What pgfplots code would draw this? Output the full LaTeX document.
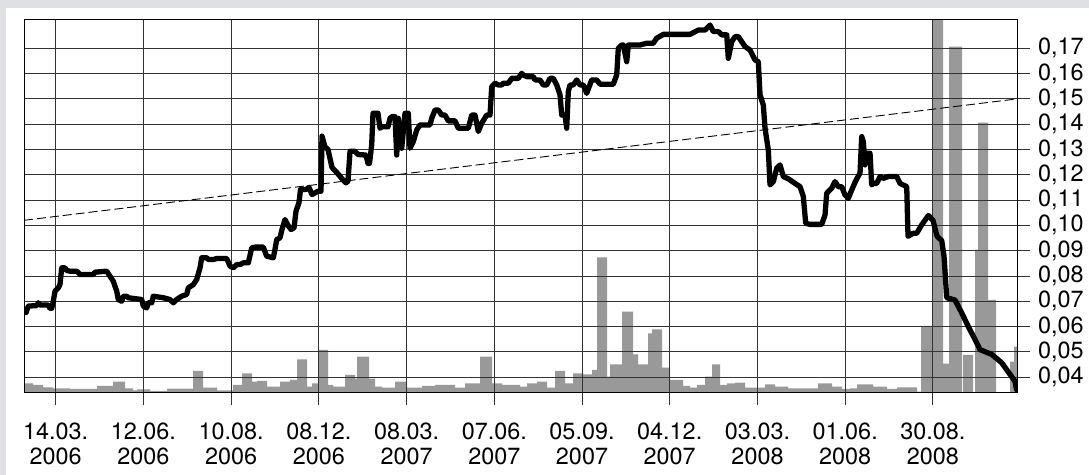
\documentclass[border=0pt]{standalone}
\usepackage{fontspec}
\setmainfont{TeX Gyre Heros}
\usepackage{pgfplots}
\pgfplotsset{compat=1.18}
\definecolor{bggray}{RGB}{223,224,227}
\definecolor{bargray}{RGB}{153,153,153}
\begin{document}
\begin{tikzpicture}[x=1bp,y=1bp]
\fill[bggray] (0,0) rectangle (1089,475);
\fill[white] (6,0) rectangle (1089,467);
% volume bars
\begin{axis}[at={(24bp,82.3bp)}, anchor=south west, scale only axis,
  width=993.3bp, height=373.4bp, xmin=24, xmax=1017.3, ymin=0, ymax=373.4,
  hide axis, clip=true]
\addplot[fill=bargray, draw=none, const plot] coordinates {
(24,9.4) (33,7.7) (43,5.4) (53,4.4) (70,3.7) (97,6.7) (113,11) (125,4.4) (133,2.4) (137,3.4)
(150,1.7) (167,4) (193,21.7) (203,5) (217,2.4) (233,7.7) (242,19.4) (252,11) (257,11.7) (267,6)
(280,11) (290,12.7) (297,33.4) (307,6) (312,9.4) (318,42.7) (328,7.7) (333,6) (345,17.7) (355,14)
(357,36) (369,14) (375,6) (382,5) (395,11) (407,5) (422,6.7) (435,7.7) (455,5) (465,9.3)
(480,36) (492,9.3) (502,7.7) (520,6) (527,9.3) (537,11) (547,5) (555,21.7) (565,9.3) (573,19.3)
(583,18.3) (592,22.7) (597,135.3) (607,16) (610,28.3) (622,81) (633,38.3) (638,28.3) (648,59.3) (652,63.3)
(662,25) (670,12.7) (683,6.7) (690,5) (697,7.7) (705,16) (712,28.3) (720,7.7) (727,9.3) (735,10)
(745,5) (765,8.3) (775,6) (788,4.3) (818,9.3) (832,6) (842,3.7) (850,4.3) (857,8.3) (873,6)
(887,3.7) (897,5.3) (917,1) (921,66.7) (933,373.4) (943,29) (949,346) (962,0) (963,37.7)
(973,0) (975,143) (978,270) (988,92.7) (996,0) (1010,31) (1014,46) (1017.3,46)
} \closedcycle;
\end{axis}
% price
\begin{axis}[at={(24bp,82.3bp)}, anchor=south west, scale only axis,
  width=993.3bp, height=373.4bp, xmin=24, xmax=1017.3, ymin=0.03387, ymax=0.18146,
  xtick={55.7,143.4,231.1,318.9,406.6,494.3,582.0,669.7,757.5,845.2,932.9},
  xticklabels={14.03.\\2006,12.06.\\2006,10.08.\\2006,08.12.\\2006,08.03.\\2007,07.06.\\2007,05.09.\\2007,04.12.\\2007,03.03.\\2008,01.06.\\2008,30.08.\\2008},
  ytick={0.04,0.05,0.06,0.07,0.08,0.09,0.10,0.11,0.12,0.13,0.14,0.15,0.16,0.17},
  yticklabels={{0,04},{0,05},{0,06},{0,07},{0,08},{0,09},{0,10},{0,11},{0,12},{0,13},{0,14},{0,15},{0,16},{0,17}},
  xtick pos=bottom, ytick pos=right, tick align=outside, major tick length=12.5bp,
  grid=major, major grid style={black!80, line width=0.9bp},
  tick style={black!80, line width=0.9bp},
  axis line style={black, line width=1bp},
  tick label style={font=\fontsize{23.5}{25}\selectfont, inner sep=0pt},
  xticklabel style={align=center, anchor=north, yshift=-18bp},
  yticklabel style={anchor=west, xshift=8bp},
  clip=true]
\addplot[black, line width=0.9bp, dash pattern=on 9bp off 4bp] coordinates {(24,0.1020) (1017.3,0.1500)};
\addplot[black, line width=5.3bp, line join=round, line cap=round] coordinates {
(26,0.0655) (28.3,0.0681) (36.7,0.0683) (38.3,0.0694) (40,0.0685) (48.3,0.0685) (50,0.0672) (51.7,0.0672) (53.3,0.0700) (55,0.0740)
(58.3,0.0753) (60,0.0766) (61.7,0.0832) (65,0.0832) (66.7,0.0822) (70,0.0819) (76.7,0.0819) (80,0.0806) (93.3,0.0806) (95,0.0815)
(106.7,0.0819) (110,0.0799) (113.3,0.0779) (116.7,0.0740) (118.3,0.0707) (121.7,0.0700) (123.3,0.0720) (126.7,0.0720) (128.3,0.0714) (141.7,0.0707)
(143.3,0.0681) (146.7,0.0674) (148.3,0.0694) (151.7,0.0694) (153.3,0.0720) (163.3,0.0714) (170,0.0707) (173.3,0.0694) (176.7,0.0707) (181.7,0.0720)
(186.7,0.0727) (188.3,0.0753) (193.3,0.0766) (196.7,0.0786) (200,0.0832) (201.7,0.0872) (206.7,0.0872) (208.3,0.0865) (213.3,0.0865) (216.7,0.0869)
(226.7,0.0869) (230,0.0839) (233.3,0.0832) (236.7,0.0845) (240,0.0845) (243.3,0.0852) (248.3,0.0852) (251.7,0.0911) (255,0.0914) (263.3,0.0914)
(266.7,0.0878) (273.3,0.0872) (275,0.0905) (276.7,0.0944) (280,0.0951)
(282,0.0984) (285,0.1023) (288,0.1000) (291,0.0984) (294,0.0990) (296,0.1056) (299,0.1090) (300.5,0.1142) (306,0.1142) (309,0.1150)
(312,0.1122) (318,0.1135) (321,0.1135) (322,0.1353) (325,0.1310) (328,0.1300) (332,0.1229) (337,0.1208) (343,0.1180) (346,0.1168)
(348,0.1175) (350,0.1293) (355,0.1293) (358,0.1280) (366,0.1278) (368,0.1245) (369.5,0.1245)
(371.7,0.1318) (373,0.1443) (378,0.1443) (380,0.1384) (382,0.1390) (388,0.1390) (390,0.1423) (392,0.1430) (395,0.1430) (396.7,0.1278)
(398.3,0.1423) (401.7,0.1305) (405,0.1443) (408.3,0.1443) (410,0.1305) (413.3,0.1331) (416.7,0.1377) (420,0.1397) (430,0.1397) (431.7,0.1423)
(435,0.1456) (438.3,0.1456) (441.7,0.1436) (445,0.1436) (448.3,0.1413) (455,0.1413) (458.3,0.1384) (468.3,0.1384) (471.7,0.1436) (475,0.1436)
(478.3,0.1371) (481.7,0.1404) (486.7,0.1436) (490,0.1436) (491.7,0.1548) (495,0.1562) (498.3,0.1555) (501.7,0.1555) (503.3,0.1562) (508.3,0.1562)
(511.7,0.1581) (518.3,0.1581) (521.7,0.1601)
(523,0.1595) (526.7,0.1588) (533.3,0.1588) (535,0.1575) (540,0.1575) (543.3,0.1555) (546.7,0.1555) (550,0.1581) (553.3,0.1581) (556.7,0.1555)
(560,0.1516) (561.7,0.1436) (565,0.1436) (566.7,0.1384) (568.3,0.1529) (570,0.1555) (573.3,0.1555) (576.7,0.1575) (580,0.1555) (583.3,0.1555)
(586.7,0.1522) (591.7,0.1575) (596.7,0.1575) (600,0.1558) (613.3,0.1558) (616.7,0.1595) (618.3,0.1700) (621.7,0.1713) (623.3,0.1713) (626.7,0.1647)
(628.3,0.1713) (640,0.1713) (646.7,0.1720) (653.3,0.1720) (656.7,0.1740) (663.3,0.1755) (690,0.1755)
(698.3,0.1772) (705,0.1772) (710,0.1792) (713.3,0.1766) (718.3,0.1766) (721.7,0.1753) (726.7,0.1753) (728.3,0.1660) (731.7,0.1726) (735,0.1746)
(738.3,0.1746) (741.7,0.1726) (745,0.1707) (750,0.1693) (755,0.1654) (758.3,0.1647) (760,0.1516) (763.3,0.1476) (765,0.1384) (768.3,0.1298)
(770,0.1160) (773.3,0.1173) (776.7,0.1226) (780,0.1239) (783.3,0.1193) (788.3,0.1184) (795,0.1166) (800,0.1153) (803.3,0.1114) (805.7,0.1008)
(810,0.1004) (821.7,0.1004) (825,0.1041) (826.7,0.1127) (831.7,0.1147) (835,0.1173) (838.3,0.1153) (841.7,0.1153) (845,0.1120) (848.3,0.1107)
(851.7,0.1140)
(855,0.1170) (857,0.1186) (860,0.1206) (861.7,0.1351) (863.3,0.1331) (865,0.1239) (866.7,0.1285) (870,0.1285) (871.7,0.1160) (873.3,0.1166)
(876.7,0.1166) (880,0.1193) (883.3,0.1186) (888.3,0.1193) (896.7,0.1193) (900,0.1166) (906.7,0.1153) (908,0.0957) (913.3,0.0969) (916.7,0.0969)
(921.7,0.1002) (928.3,0.1039) (933,0.1020) (937,0.0957) (941.7,0.0940) (944,0.0878) (946.7,0.0714) (955,0.0705) (961.7,0.0654) (968.3,0.0600)
(975,0.0549) (980,0.0509) (991.7,0.0490) (1001.7,0.0457) (1010,0.0411) (1015,0.0384) (1016.5,0.0351)
};
\end{axis}
\pgfresetboundingbox
\useasboundingbox (0,0) rectangle (1089,475);
\end{tikzpicture}
\end{document}
